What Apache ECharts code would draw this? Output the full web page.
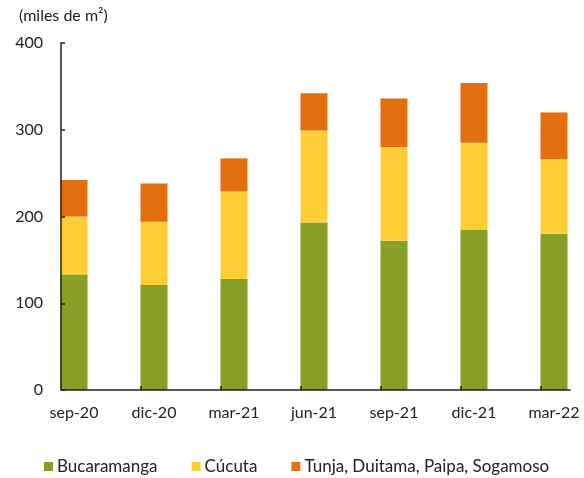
<!DOCTYPE html>
<html>
<head>
<meta charset="utf-8">
<script src="https://cdn.jsdelivr.net/npm/echarts@6/dist/echarts.min.js"></script>
<style>
  html, body { margin: 0; padding: 0; background: #fff; }
  #chart { width: 584px; height: 478px; }
</style>
</head>
<body>
<div id="chart"></div>
<script>
var categories = ['sep-20', 'dic-20', 'mar-21', 'jun-21', 'sep-21', 'dic-21', 'mar-22'];
var bucaramanga = [133, 121, 128, 193, 172, 185, 180];
var cucuta = [67, 73, 101, 106, 108, 100, 86];
var tunja = [42, 44, 38, 43, 56, 69, 54];
var names = ['Bucaramanga', 'Cúcuta', 'Tunja, Duitama, Paipa, Sogamoso'];
var colors = ['#879F25', '#FDCE35', '#E46F0E'];

var fontFamily = 'Lato, "Noto Sans", sans-serif';
var ink = '#222';

// frame axis: one unit per category, ticks fall on the left edge of each bar
var shift = 0.1625;
var tickValues = [];
for (var i = 1; i < categories.length; i++) {
    tickValues.push(i - shift);
}

var chart = echarts.init(document.getElementById('chart'));
var option = {
    animation: false,
    textStyle: { fontFamily: fontFamily },
    graphic: [{
        type: 'text',
        left: 19,
        top: 8,
        style: {
            text: '(miles de m²)',
            fontSize: 16,
            fontFamily: fontFamily,
            fill: ink
        }
    }],
    legend: {
        top: 453,
        left: 39,
        itemWidth: 9,
        itemHeight: 9,
        itemGap: 34,
        icon: 'rect',
        data: names,
        textStyle: {
            color: ink,
            fontSize: 17,
            padding: [0, 0, 0, -1]
        }
    },
    grid: [
        // frame with the visible axes
        { left: 61, right: 14, top: 43, bottom: 88 },
        // bars, one category point per bar centre
        { left: 74, right: 30, top: 43, bottom: 88 }
    ],
    xAxis: [{
        type: 'value',
        gridIndex: 0,
        min: -shift,
        max: categories.length - 1 + 0.2,
        z: 5,
        splitLine: { show: false },
        axisLine: { show: true, lineStyle: { color: ink, width: 1.5 } },
        axisTick: {
            show: true,
            inside: true,
            length: 4,
            customValues: tickValues,
            lineStyle: { color: ink, width: 1.5 }
        },
        axisLabel: { show: false }
    }, {
        type: 'category',
        gridIndex: 1,
        boundaryGap: false,
        data: categories,
        axisLine: { show: false },
        axisTick: { show: false },
        axisLabel: {
            margin: 15,
            fontSize: 16,
            color: ink
        }
    }],
    yAxis: [{
        type: 'value',
        gridIndex: 0,
        min: 0,
        max: 400,
        interval: 100,
        z: 5,
        splitLine: { show: false },
        axisLine: { show: true, onZero: false, lineStyle: { color: ink, width: 1.5 } },
        axisTick: { show: true, inside: true, length: 4, lineStyle: { color: ink, width: 1.5 } },
        axisLabel: {
            margin: 18,
            fontSize: 16,
            color: ink
        }
    }, {
        type: 'value',
        gridIndex: 1,
        min: 0,
        max: 400,
        interval: 100,
        show: false,
        splitLine: { show: false }
    }],
    series: [{
        name: names[0],
        type: 'bar',
        xAxisIndex: 1,
        yAxisIndex: 1,
        stack: 'total',
        barWidth: 27,
        clip: false,
        itemStyle: { color: colors[0] },
        data: bucaramanga
    }, {
        name: names[1],
        type: 'bar',
        xAxisIndex: 1,
        yAxisIndex: 1,
        stack: 'total',
        barWidth: 27,
        clip: false,
        itemStyle: { color: colors[1] },
        data: cucuta
    }, {
        name: names[2],
        type: 'bar',
        xAxisIndex: 1,
        yAxisIndex: 1,
        stack: 'total',
        barWidth: 27,
        clip: false,
        itemStyle: { color: colors[2] },
        data: tunja
    }]
};
chart.setOption(option);
</script>
</body>
</html>
